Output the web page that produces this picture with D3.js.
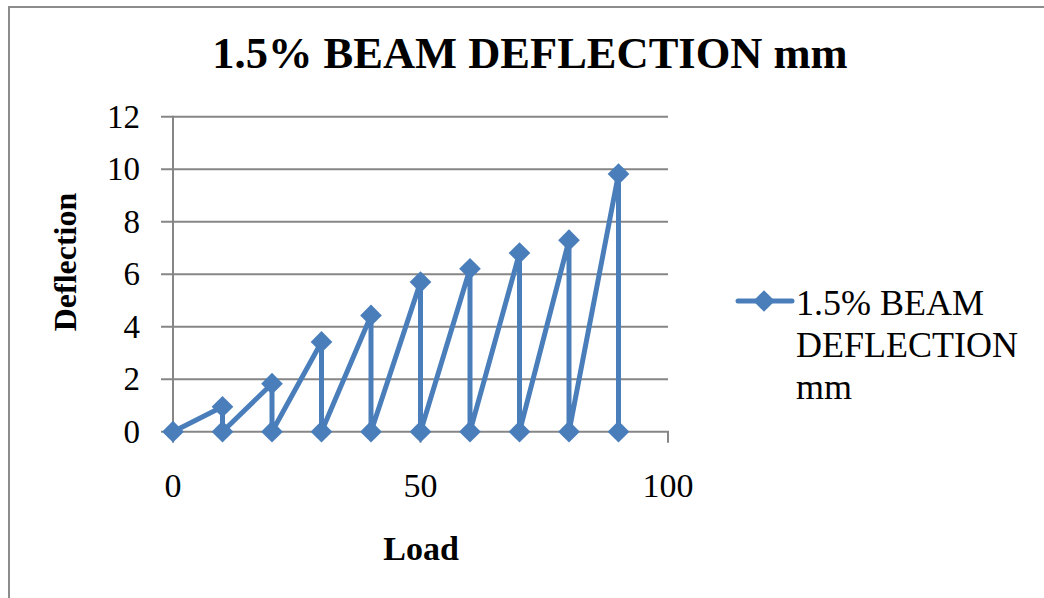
<!DOCTYPE html>
<html>
<head>
<meta charset="utf-8">
<script src="https://cdn.jsdelivr.net/npm/d3@7"></script>
<style>
  html, body { margin: 0; padding: 0; background: #fff; }
  svg { display: block; }
</style>
</head>
<body>
<svg id="chart" width="1044" height="598"></svg>
<script>
// Data
const loads = [0, 10, 10, 20, 20, 30, 30, 40, 40, 50, 50, 60, 60, 70, 70, 80, 80, 90, 90];
const deflections = [0, 0.95, 0, 1.83, 0, 3.42, 0, 4.43, 0, 5.7, 0, 6.21, 0, 6.81, 0, 7.3, 0, 9.82, 0];
const yTicks = [0, 2, 4, 6, 8, 10, 12];
const xTicks = [0, 50, 100];
const titleText = "1.5% BEAM DEFLECTION mm";
const xTitle = "Load";
const yTitle = "Deflection";
const legendLines = ["1.5% BEAM", "DEFLECTION", "mm"];

const svg = d3.select("#chart");
const color = "#4A7EBB";
const gridColor = "#868686";
const font = "'Liberation Serif', 'Times New Roman', serif";

// Outer border
svg.append("rect")
  .attr("x", 9).attr("y", 7)
  .attr("width", 1100).attr("height", 700)
  .attr("fill", "none").attr("stroke", "#8c8c8c").attr("stroke-width", 2);

const x = d3.scaleLinear().domain([0, 100]).range([173, 668]);
const y = d3.scaleLinear().domain([0, 12]).range([431.7, 116.8]);

// Grid lines (with outward tick extension)
svg.append("g").selectAll("line").data(yTicks.filter(d => d > 0)).join("line")
  .attr("x1", 161).attr("x2", x(100))
  .attr("y1", d => y(d)).attr("y2", d => y(d))
  .attr("stroke", gridColor).attr("stroke-width", 2);

// Y axis line
svg.append("line")
  .attr("x1", x(0)).attr("x2", x(0))
  .attr("y1", y(12) - 1).attr("y2", y(0))
  .attr("stroke", gridColor).attr("stroke-width", 2);
// Zero tick
svg.append("line")
  .attr("x1", 161).attr("x2", x(0))
  .attr("y1", y(0)).attr("y2", y(0))
  .attr("stroke", gridColor).attr("stroke-width", 2);

// X axis line and ticks
svg.append("line")
  .attr("x1", x(0)).attr("x2", x(100) + 1)
  .attr("y1", y(0)).attr("y2", y(0))
  .attr("stroke", gridColor).attr("stroke-width", 2);
svg.append("g").selectAll("line").data(xTicks).join("line")
  .attr("x1", d => x(d)).attr("x2", d => x(d))
  .attr("y1", y(0)).attr("y2", y(0) + 11)
  .attr("stroke", gridColor).attr("stroke-width", 2);

// Y tick labels
svg.append("g").selectAll("text").data(yTicks).join("text")
  .attr("x", 140).attr("y", d => y(d) + 11)
  .attr("text-anchor", "end")
  .attr("font-family", font).attr("font-size", 33)
  .attr("fill", "#000")
  .text(d => d);

// X tick labels
svg.append("g").selectAll("text").data(xTicks).join("text")
  .attr("x", d => x(d)).attr("y", 497)
  .attr("text-anchor", "middle")
  .attr("font-family", font).attr("font-size", 34)
  .attr("fill", "#000")
  .text(d => d);

// Line
const line = d3.line().x((d, i) => x(loads[i])).y(d => y(d));
svg.append("path")
  .datum(deflections)
  .attr("d", line)
  .attr("fill", "none")
  .attr("stroke", color)
  .attr("stroke-width", 5)
  .attr("stroke-linejoin", "round");

// Markers
const diamond = d3.symbol().type(d3.symbolDiamond2).size(300);
svg.append("g").selectAll("path").data(deflections).join("path")
  .attr("transform", (d, i) => `translate(${x(loads[i])},${y(d)})`)
  .attr("d", diamond)
  .attr("fill", color);

// Title
svg.append("text")
  .attr("x", 530).attr("y", 68)
  .attr("text-anchor", "middle")
  .attr("font-family", font).attr("font-size", 44.5).attr("font-weight", "bold")
  .attr("fill", "#000")
  .text(titleText);

// Axis titles
svg.append("text")
  .attr("x", 421).attr("y", 560)
  .attr("text-anchor", "middle")
  .attr("font-family", font).attr("font-size", 34).attr("font-weight", "bold")
  .attr("fill", "#000")
  .text(xTitle);

svg.append("text")
  .attr("transform", "translate(76,262) rotate(-90)")
  .attr("text-anchor", "middle")
  .attr("font-family", font).attr("font-size", 32).attr("font-weight", "bold")
  .attr("fill", "#000")
  .text(yTitle);

// Legend
const lg = svg.append("g");
lg.append("line")
  .attr("x1", 738).attr("x2", 792).attr("y1", 301).attr("y2", 301)
  .attr("stroke", color).attr("stroke-width", 5).attr("stroke-linecap", "round");
lg.append("path")
  .attr("transform", "translate(764,301)")
  .attr("d", diamond)
  .attr("fill", color);
lg.selectAll("text").data(legendLines).join("text")
  .attr("x", 796).attr("y", (d, i) => 315 + i * 42)
  .attr("font-family", font).attr("font-size", 36)
  .attr("fill", "#000")
  .text(d => d);
</script>
</body>
</html>
